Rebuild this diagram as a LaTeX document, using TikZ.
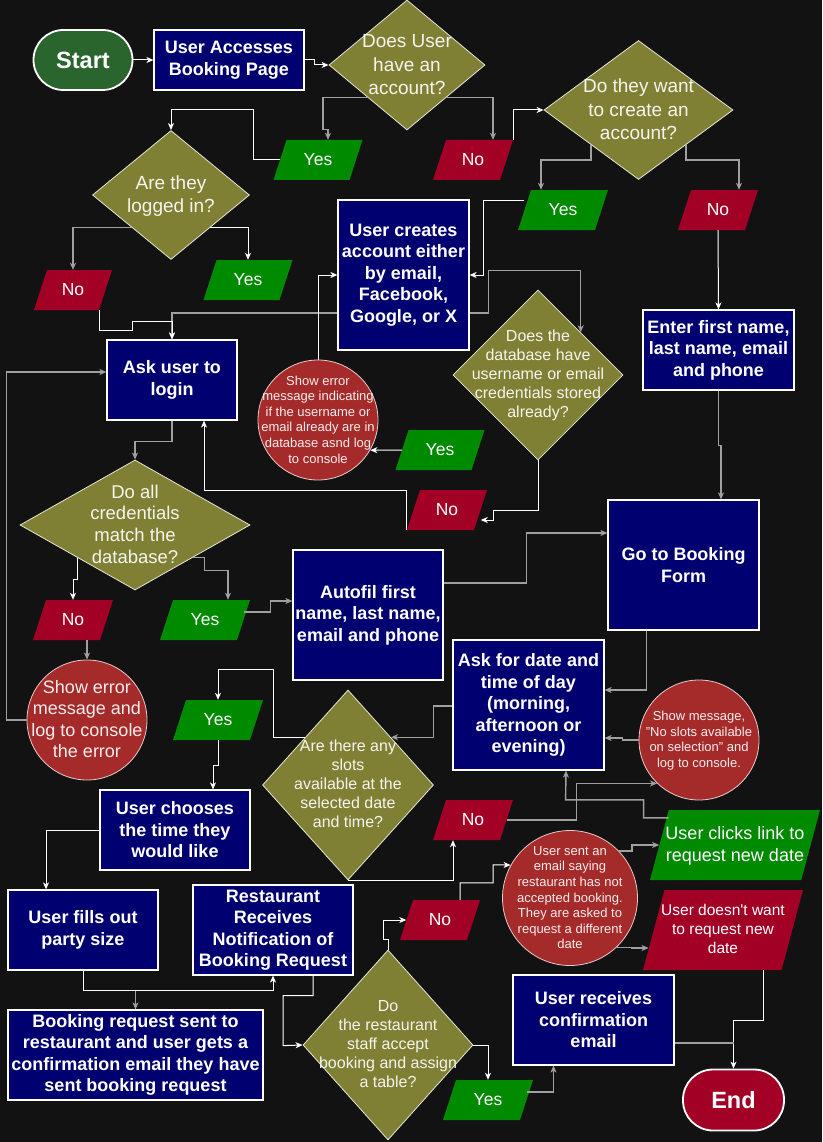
\documentclass[tikz,border=0pt]{standalone}
\usepackage{fontspec}
\setmainfont{Liberation Sans}
\usepackage{tikz}
\usetikzlibrary{shapes.geometric,arrows.meta,positioning,calc}

\definecolor{bgdark}{HTML}{121212}
\definecolor{navybox}{HTML}{000070}
\definecolor{olivedec}{HTML}{808035}
\definecolor{yesgreen}{HTML}{008A00}
\definecolor{nored}{HTML}{A20025}
\definecolor{errred}{HTML}{A52A2A}
\definecolor{startgreen}{HTML}{2B652E}
\definecolor{linegray}{HTML}{A0A0A0}

\newcommand{\ctext}[1]{\makebox[0pt]{\raisebox{-0.3em}[0pt][0pt]{\begin{tabular}{@{}c@{}}#1\end{tabular}}}}
\newcommand{\ptext}[2][40pt]{\raisebox{-0.5\height}{\rule{0pt}{#1}}\ctext{#2}}

\tikzset{
	process/.style={rectangle, draw=white, line width=1.2pt, fill=navybox, text=white, align=center, inner sep=1pt, font=\fontsize{18}{21.5}\selectfont\bfseries},
	decision/.style={diamond, draw=white!80!olivedec, line width=0.8pt, fill=olivedec, text=white!92!olivedec, inner sep=0pt, font=\fontsize{16}{19}\selectfont},
	bigdecision/.style={decision, font=\fontsize{19}{23.5}\selectfont},
	yesbox/.style={trapezium, trapezium left angle=72, trapezium right angle=108, trapezium stretches body, fill=yesgreen, text=white, minimum width=89pt, inner sep=0pt, font=\fontsize{17.5}{21}\selectfont},
	nobox/.style={yesbox, fill=nored, minimum width=80pt},
	errcircle/.style={circle, draw=white!75!errred, line width=0.8pt, fill=errred, text=white!92!errred, inner sep=0pt, minimum size=120pt, font=\fontsize{13}{15.6}\selectfont},
	terminal/.style={rectangle, rounded corners=30pt, draw=white, line width=1.8pt, text=white, minimum width=99pt, minimum height=60pt, font=\fontsize{23.5}{27}\selectfont\bfseries},
	wline/.style={draw=white, line width=1pt, ->},
	gline/.style={draw=linegray, line width=1.4pt, ->},
}

\begin{document}
\begin{tikzpicture}[x=1pt, y=-1pt, >={Stealth[length=7pt,width=6pt,inset=2pt]}]
	\fill[bgdark] (0,0) rectangle (822,1142);
	\useasboundingbox (0,0) rectangle (822,1142);

	% account check
	\node[terminal, fill=startgreen] (start) at (83,60) {Start};
	\node[process, right=20pt of start, minimum width=150pt, minimum height=60pt] (access) {User Accesses\\Booking Page};
	\node[bigdecision, minimum width=156pt, minimum height=130pt] (hasacct) at (407,65) {\ctext{Does User\\have an\\account?}};
	\node[yesbox] (yesacct) at (318,160) {\ptext{Yes}};
	\node[nobox] (noacct) at (473,160) {\ptext{No}};
	\node[bigdecision, minimum width=189pt, minimum height=139pt] (wantcreate) at (638.5,110) {\ctext{Do they want\\to create an\\account?}};
	\node[yesbox, minimum width=90pt] (yescreate) at (563,210) {\ptext{Yes}};
	\node[nobox] (nocreate) at (718,210) {\ptext{No}};
	\node[bigdecision, minimum width=157pt, minimum height=129pt] (loggedin) at (171,195) {\ctext{Are they\\logged in?}};
	\node[nobox, minimum width=78pt] (nologged) at (73,290) {\ptext{No}};
	\node[yesbox] (yeslogged) at (248,280) {\ptext{Yes}};

	% sign up and login
	\node[process, minimum width=131pt, minimum height=150pt] (createacct) at (403.5,275) {User creates\\account either\\by email,\\Facebook,\\Google, or X};
	\node[decision, minimum width=170pt, minimum height=170pt] (dbcheck) at (538,375) {\ctext{Does the\\database have\\username or email\\credentials stored\\already?}};
	\node[errcircle] (dberr) at (318,420) {\ctext{Show error\\message indicating\\if the username or\\email already are in\\database asnd log\\to console}};
	\node[yesbox] (yesdb) at (440,450) {\ptext{Yes}};
	\node[nobox] (nodb) at (447,510) {\ptext{No}};
	\node[process, minimum width=151pt, minimum height=80pt] (enterdetails) at (718.5,350) {Enter first name,\\last name, email\\and phone};
	\node[process, minimum width=130pt, minimum height=80pt] (login) at (172,380) {Ask user to\\login};
	\node[decision, minimum width=230pt, minimum height=130pt, font=\fontsize{18.5}{21.7}\selectfont] (credmatch) at (135,525) {\ctext{Do all\\credentials\\match the\\database?}};
	\node[nobox] (nocred) at (73,620) {\ptext{No}};
	\node[yesbox, minimum width=90pt] (yescred) at (205,620) {\ptext{Yes}};
	\node[errcircle, font=\fontsize{18}{21.5}\selectfont] (crederr) at (87,720) {\ctext{Show error\\message and\\log to console\\the error}};

	% booking form
	\node[process, minimum width=150pt, minimum height=130pt] (autofill) at (368,615) {Autofil first\\name, last name,\\email and phone};
	\node[process, minimum width=151pt, minimum height=130pt] (bookform) at (683.5,565) {Go to Booking\\Form};
	\node[process, minimum width=151pt, minimum height=130pt] (askdate) at (528.5,705) {Ask for date and\\time of day\\(morning,\\afternoon or\\evening)};
	\node[errcircle] (noslotmsg) at (699,740) {\ctext{Show message,\\"No slots available\\on selection" and\\log to console.}};
	\node[yesbox, minimum width=90pt] (yesslots) at (218,720) {\ptext{Yes}};
	\node[decision, minimum width=171pt, minimum height=190pt] (slotsq) at (348,785) {\ctext{Are there any\\slots\\available at the\\selected date\\and time?}};
	\node[process, minimum width=150pt, minimum height=80pt] (choosetime) at (175,830) {User chooses\\the time they\\would like};
	\node[nobox] (noslots) at (473,820) {\ptext{No}};
	\node[yesbox, trapezium left angle=75, trapezium right angle=105, minimum width=170pt, font=\fontsize{18}{22}\selectfont] (clicklink) at (735,845) {\ptext[70pt]{User clicks link to\\request new date}};
	\node[errcircle, minimum size=135pt] (declinedmail) at (570,898) {\ctext{User sent an\\email saying\\restaurant has not\\accepted booking.\\They are asked to\\request a different\\date}};

	% restaurant side
	\node[nobox] (noaccept) at (440,920) {\ptext{No}};
	\node[process, minimum width=150pt, minimum height=80pt] (partysize) at (83,930) {User fills out\\party size};
	\node[process, minimum width=160pt, minimum height=90pt] (notify) at (273,930) {Restaurant\\Receives\\Notification of\\Booking Request};
	\node[nobox, trapezium left angle=75, trapezium right angle=105, minimum width=160pt, font=\fontsize{15.5}{19}\selectfont] (nowant) at (723,930) {\ptext[80pt]{User doesn\textquotesingle t want\\to request new\\date}};
	\node[decision, minimum width=170pt, minimum height=190pt] (acceptq) at (388,1045) {\ctext{Do\\the restaurant\\staff accept\\booking and assign\\a table?}};
	\node[process, minimum width=255pt, minimum height=90pt] (requestsent) at (135.5,1055) {Booking request sent to\\restaurant and user gets a\\confirmation email they have\\sent booking request};
	\node[process, minimum width=161pt, minimum height=90pt] (confirm) at (593.5,1020) {User receives\\confirmation\\email};
	\node[yesbox, minimum width=90pt] (yesaccept) at (488,1100) {\ptext{Yes}};
	\node[terminal, fill=nored, minimum width=101pt, minimum height=61pt] (endnode) at (733.5,1100) {End};

	% connectors
	\draw[wline] (start) -- (access);
	\draw[wline] (access.east) -- ++(10,0) |- (hasacct.west);
	\draw[gline] (hasacct.south west) -| ++(-45,32) -| ([xshift=10pt]yesacct.north);
	\draw[gline] (hasacct.south east) -| ([xshift=20pt]noacct.north);
	\draw[wline] (yesacct.west) -| ++(-26,-50) -| (loggedin.north);
	\draw[wline] (noacct.top right corner) |- (wantcreate.west);
	\draw[gline] (wantcreate.south west) -- ++(0,15) -| ([xshift=-22pt]yescreate.north);
	\draw[gline] (wantcreate.south east) -- ++(0,15) -| ([xshift=21pt]nocreate.north);
	\draw[gline] (loggedin.south west) -| (nologged.north);
	\draw[wline] (loggedin.south east) -| (yeslogged.north);
	\draw[wline] ([yshift=10pt]yescreate.west) -| ([xshift=14pt]createacct.east) -- (createacct.east);
	\draw[gline] ([yshift=-38pt]createacct.east) -- ++(19,0) |- ([yshift=62pt]dbcheck.north east) -- (dbcheck.north east);
	\draw[gline] ([yshift=-38pt]createacct.west) -| (login.north);
	\draw[wline] (nologged.bottom right corner) -- ++(0,20) -- ++(33,0) -- ++(0,-9) -| (login.north);
	\draw[wline] (dberr.north) |- (createacct.west);
	\draw[wline] (yesdb.west) -- (dberr.-30);
	\draw[wline] (dbcheck.south) |- ++(-45,50) |- ([yshift=-10pt]nodb.east);
	\draw[wline] (nodb.bottom left corner) -- ++(0,-40) -| ([xshift=32pt]login.south);
	\draw[gline] (login.south) -- ++(0,21) -| (credmatch.north);
	\draw[wline] (credmatch.south west) -- ++(0,22) -| (nocred.north);
	\draw[gline] (credmatch.south east) -- ++(12,0) -- ++(0,13) -| ([xshift=23pt]yescred.north);
	\draw[gline] ([xshift=14pt]nocred.south) -- (crederr.north);
	\draw[gline] (crederr.west) -- ++(-20,0) |- ([yshift=8pt]login.west);
	\draw[gline] ([yshift=8pt]yescred.east) -- ++(27,0) |- ([yshift=14pt]autofill.west);
	\draw[gline] ([yshift=32pt]autofill.east) -- ++(83,0) |- ([yshift=32pt]bookform.west);
	\draw[wline] (nocreate.south) -- (enterdetails.north);
	\draw[gline] (enterdetails.south) -- ++(0,55) -| ([xshift=37.5pt]bookform.north);
	\draw[gline] ([xshift=-37pt]bookform.south) |- ([yshift=15pt]askdate.east);
	\draw[gline] ([yshift=-1pt]askdate.west) -- ++(-19,0) |- (slotsq.north east);
	\draw[wline] (slotsq.north west) -| ++(-32,-67.5) -| (yesslots.north);
	\draw[wline] (yesslots.south) -- ++(0,25) -| ([xshift=38pt]choosetime.north);
	\draw[wline] (slotsq.south) -| ([xshift=-20pt]noslots.south);
	\draw[gline] (noslots.east) -- ++(70,0) |- (noslotmsg.226);
	\draw[gline] (noslotmsg.west) -- ++(-16,0) |- ([yshift=-33pt]askdate.east);
	\draw[gline] ([yshift=-8pt]clicklink.top left corner) -- ++(-25,0) |- ++(-78,-18) -- ([xshift=37.5pt]askdate.south);
	\draw[gline] (declinedmail.44) -- ++(13,0) |- (clicklink.west);
	\draw[gline] (declinedmail.-47) -- ++(15,0) |- ([yshift=-18pt, xshift=-5pt]nowant.west);
	\draw[wline] ([xshift=20pt]noaccept.north) -- ++(0,-17) -| ++(33,-18) -- (declinedmail.151);
	\draw[wline] (acceptq.north) -- ++(0,-10) -- ++(-5,0) |- (noaccept.west);
	\draw[wline] (choosetime.west) -| ([xshift=-37pt]partysize.north);
	\draw[wline] (partysize.south) -- ++(0,20) -| (notify.south);
	\draw[gline] ($(partysize.south)+(52.5,20)$) -- (requestsent.north);
	\draw[wline] ([xshift=40pt]notify.south) -- ++(0,20) -| ++(-30,50) -- (acceptq.west);
	\draw[wline] (acceptq.east) -| (yesaccept.north);
	\draw[gline] ([yshift=8pt]yesaccept.east) -| ([xshift=-40pt]confirm.south);
	\draw[wline] ([xshift=40pt]nowant.south) -- ++(0,50) -| (endnode.north);
	\coordinate (confout) at ([yshift=-23pt]confirm.east);
	\draw[gline, -] (confout) -- (confout -| endnode.north);
\end{tikzpicture}
\end{document}
